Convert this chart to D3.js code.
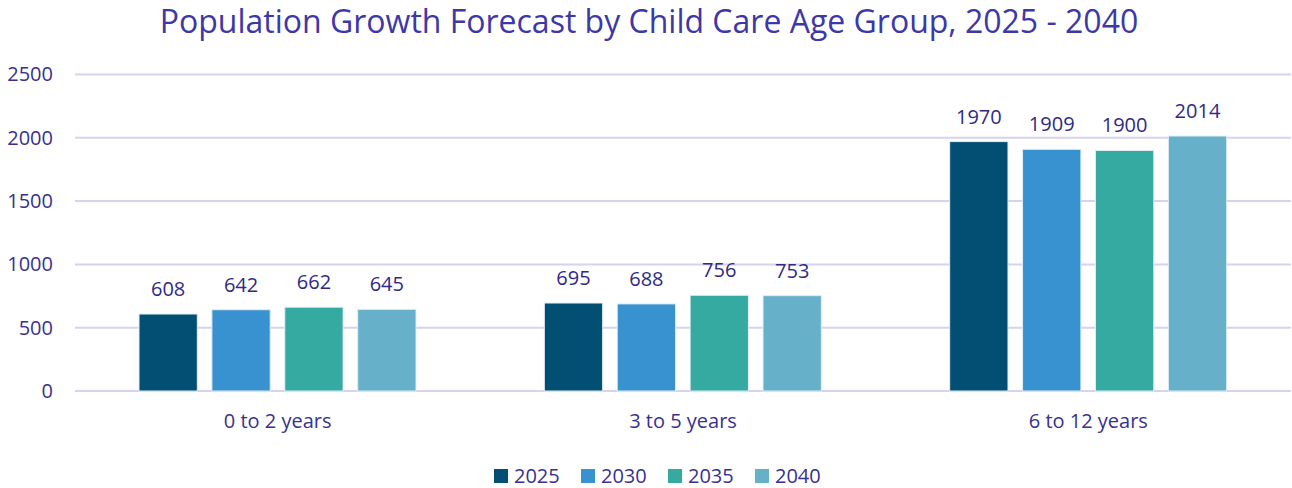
<!DOCTYPE html>
<html>
<head>
<meta charset="utf-8">
<script src="https://cdn.jsdelivr.net/npm/d3@7"></script>
<style>
  body { margin: 0; background: #fff; }
  text { font-family: "Open Sans", "Noto Sans", sans-serif; fill: #38318f; }
</style>
</head>
<body>
<div class="container"></div>
<script>
let categories = ["0 to 2 years", "3 to 5 years", "6 to 12 years"];
let years = ["2025", "2030", "2035", "2040"];
let v2025 = [608, 695, 1970];
let v2030 = [642, 688, 1909];
let v2035 = [662, 756, 1900];
let v2040 = [645, 753, 2014];
let yTicks = [0, 500, 1000, 1500, 2000, 2500];
let colors = ["#034f73", "#3892cf", "#35aaa0", "#66b0c9"];

let series = [v2025, v2030, v2035, v2040];

let width = 1292, height = 488;

let svg = d3.select(".container").append("svg")
    .attr("width", width)
    .attr("height", height);

let x = d3.scaleBand()
    .domain(categories)
    .range([75, 1291]);

// bars take the middle 277px of each 405px group
let xInner = d3.scaleBand()
    .domain(years)
    .range([64, 341])
    .paddingInner(0.2);

let y = d3.scaleLinear()
    .domain([0, 2500])
    .range([391, 74.5]);

// gridlines
svg.append("g")
  .selectAll("line")
  .data(yTicks)
  .enter().append("line")
    .attr("x1", 75)
    .attr("x2", 1291)
    .attr("y1", d => y(d))
    .attr("y2", d => y(d))
    .style("stroke", "#d6d2f0")
    .style("stroke-width", 2)

// y axis labels
let yAxis = svg.append("g")
    .attr("transform", "translate(53,0)")
    .call(d3.axisLeft(y).tickValues(yTicks).tickFormat(d3.format("d")).tickSize(0).tickPadding(0));
yAxis.select(".domain").remove();
yAxis.selectAll("text")
    .style("font-size", "20px")
    .attr("fill", null);

// bars
let groups = svg.append("g")
  .selectAll("g")
  .data(categories)
  .enter().append("g")
    .attr("transform", d => "translate(" + x(d) + ",0)");

groups.selectAll("rect")
  .data((d, i) => years.map((yr, j) => ({yr: yr, v: series[j][i], c: colors[j]})))
  .enter().append("rect")
    .attr("x", d => xInner(d.yr))
    .attr("width", xInner.bandwidth())
    .attr("y", d => y(d.v))
    .attr("height", d => y(0) - y(d.v))
    .style("fill", d => d.c)
    .style("stroke", "#dfeef5")
    .style("stroke-width", 1)

groups.selectAll("text.val")
  .data((d, i) => years.map((yr, j) => ({yr: yr, v: series[j][i]})))
  .enter().append("text")
    .attr("class", "val")
    .text(d => d.v)
    .attr("text-anchor", "middle")
    .attr("x", d => xInner(d.yr) + xInner.bandwidth() / 2)
    .attr("y", d => y(d.v) - 18)
    .style("font-size", "20px")
    .style("fill", "#302a85")

// x axis labels
svg.append("g")
  .selectAll("text")
  .data(categories)
  .enter().append("text")
    .text(d => d)
    .attr("text-anchor", "middle")
    .attr("x", d => x(d) + x.bandwidth() / 2)
    .attr("y", 428)
    .style("font-size", "20px")

// title
svg.append("text")
    .text("Population Growth Forecast by Child Care Age Group, 2025 - 2040")
    .attr("text-anchor", "middle")
    .attr("x", 649)
    .attr("y", 33)
    .style("font-size", "32px")
    .style("fill", "#3d37a8")

// legend
let legX = [494, 581, 668, 755];
let legend = svg.append("g")
  .selectAll("g")
  .data(years)
  .enter().append("g")
    .attr("transform", (d, i) => "translate(" + legX[i] + ",469)");
legend.append("rect")
    .attr("width", 14)
    .attr("height", 14)
    .style("fill", (d, i) => colors[i]);
legend.append("text")
    .text(d => d)
    .attr("x", 20)
    .attr("y", 14)
    .style("font-size", "20px")
</script>
</body>
</html>
